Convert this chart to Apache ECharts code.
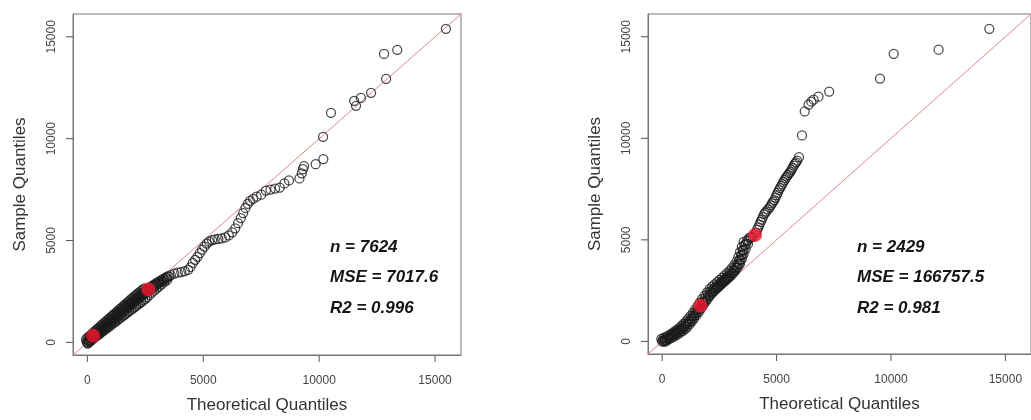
<!DOCTYPE html>
<html>
<head>
<meta charset="utf-8">
<script src="https://cdn.jsdelivr.net/npm/echarts@6/dist/echarts.min.js"></script>
<style>
  html, body { margin: 0; padding: 0; background: #fff; }
  #chart { width: 1031px; height: 420px; }
</style>
</head>
<body>
<div id="chart"></div>
<script>
// Q-Q comparison of two samples: [theoretical quantile, sample quantile]
const tickValues = [0, 5000, 10000, 15000];
const axisRange = [-620, 16120];
const identityEnds = [-2000, 18000];

const leftPoints = [
  [-30,40],[40,110],[100,190],[170,250],[230,340],[300,410],[370,470],[440,540],[510,600],[580,680],
  [650,740],[720,820],[790,880],[860,960],[930,1020],[1000,1100],[1070,1160],[1140,1240],[1210,1300],
  [1280,1380],[1350,1440],[1420,1520],[1490,1580],[1560,1660],[1630,1720],[1700,1790],[1770,1850],
  [1840,1920],[1910,1980],[1980,2050],[2050,2110],[2120,2180],[2190,2240],[2260,2310],[2330,2370],
  [2400,2440],[2470,2500],[2540,2570],[2620,2640],[2700,2700],[2780,2760],[2860,2820],[2940,2880],
  [3020,2940],[3100,3000],[3190,3060],[3280,3120],[3370,3180],[3460,3240],
  [20,-60],[90,20],[160,90],[230,160],[300,230],[380,290],[450,360],[530,420],[600,490],[680,550],
  [750,620],[830,680],[900,750],[980,810],[1050,880],[1130,940],[1200,1010],[1280,1070],[1350,1140],
  [1430,1200],[1500,1270],[1580,1330],[1650,1400],[1730,1460],[1800,1530],[1880,1590],[1950,1660],
  [2030,1720],[2100,1790],[2180,1850],[2260,1920],[2340,1990],[2420,2060],[2500,2140],[2580,2220],
  [2680,2330],[2780,2440],[2880,2540],[2980,2640],[3090,2740],[3200,2850],[3320,2960],[3440,3060],
  [0,-20],[70,40],[135,100],[200,170],[265,230],[335,300],[405,370],[475,440],[545,500],[615,580],
  [685,640],[755,720],[825,780],[895,860],[965,920],[1035,1000],[1105,1060],[1175,1140],[1245,1200],
  [1315,1280],[1385,1340],[1455,1420],[1525,1480],[1595,1560],[1665,1620],[1735,1700],[1805,1760],
  [1875,1830],[1945,1890],[2015,1960],[2085,2020],[2155,2090],[2225,2150],[2295,2220],[2365,2280],
  [2435,2350],[2505,2410],[2580,2480],[2660,2560],[2740,2620],[2820,2690],[2900,2760],[2980,2820],
  [3060,2880],[3150,2950],[3240,3010],[3330,3080],[3420,3150],[3520,3230],
  [-60,150],[10,230],[80,300],[150,370],[220,440],[290,510],[360,590],[430,660],[500,730],[570,800],
  [640,870],[710,940],[780,1010],[850,1080],[920,1150],[990,1220],[1060,1290],[1130,1360],[1200,1430],
  [1270,1500],[1340,1570],[1410,1640],[1480,1710],[1550,1780],[1620,1850],[1690,1920],[1760,1990],
  [1830,2060],[1900,2130],[1970,2200],[2040,2270],[2110,2330],[2180,2400],[2250,2460],[2320,2530],
  [2390,2590],[2460,2650],
  [3600,3300],[3750,3380],[3900,3420],[4050,3450],[4200,3500],[4350,3560],[4450,3700],[4550,3900],
  [4650,4050],[4750,4200],[4850,4380],[4950,4550],[5050,4700],[5150,4850],[5250,4950],[5380,5020],
  [5500,5060],[5650,5080],[5800,5100],[5950,5150],[6100,5250],[6250,5400],[6380,5600],[6500,5850],
  [6620,6100],[6720,6350],[6820,6600],[6920,6800],[7020,6950],[7150,7050],[7300,7150],[7500,7250],
  [7700,7450],[7900,7500],[8100,7550],[8300,7600],[8500,7800],[8700,7950],[9150,8050],[9250,8300],
  [9300,8500],[9350,8650],[9850,8750],[10180,9000],[10170,10090],[10510,11270],[11510,11860],
  [11590,11610],[11800,12000],[12240,12250],[12890,12940],[12800,14160],[13370,14360],[15470,15390]
];
const leftHighlight = [[250, 330], [2630, 2600]];

const rightPoints = [
  [0,0],[60,30],[150,80],[250,150],[350,240],[450,330],[550,420],[650,500],[750,580],[850,660],
  [950,760],[1050,870],[1150,990],[1250,1120],[1350,1260],[1450,1410],[1550,1570],[1780,1950],
  [1900,2150],[2000,2300],[2100,2450],[2200,2550],[2300,2650],[2400,2750],[2500,2850],[2600,2950],
  [2700,3050],[2800,3150],[2900,3250],[3000,3400],[3100,3500],[3200,3650],[3300,3800],[3380,4000],
  [3450,4250],[3520,4500],[3600,4750],[3700,4950],[3800,5100],[3950,5150],
  [100,-20],[200,40],[300,110],[400,170],[500,240],[600,300],[700,370],[800,440],[900,520],[1000,610],
  [1100,720],[1200,850],[1300,990],[1400,1140],[1500,1290],[1600,1450],[1700,1620],[1800,1790],
  [1900,1960],[2000,2120],[2100,2270],[2200,2400],[2300,2510],[2400,2620],[2500,2720],[2600,2830],
  [2700,2930],[2800,3030],[2900,3130],[3000,3240],[3100,3360],[3200,3490],[3300,3640],[3400,3820],
  [3480,4050],[3560,4300],[3650,4550],[3750,4800],
  [30,50],[120,90],[210,140],[310,200],[410,260],[510,320],[610,390],[710,460],[810,540],[910,630],
  [1010,730],[1110,840],[1210,970],[1310,1110],[1410,1260],[1510,1420],[1610,1590],[1710,1760],
  [1820,1900],[1930,2060],[2050,2230],[2150,2370],[2250,2480],[2350,2590],[2450,2690],[2550,2800],
  [2650,2900],[2750,3000],[2850,3100],[2950,3210],[3050,3330],[3150,3470],[3250,3620],[3350,3800],
  [3420,4020],[3500,4280],[3570,4520],[3660,4800],[3760,5000],[3870,5120],
  [-40,120],[50,160],[140,210],[240,270],[340,340],[440,410],[540,490],[640,570],[740,660],[840,760],
  [940,870],[1040,990],[1140,1120],[1240,1260],[1340,1410],[1440,1570],[1540,1740],[1640,1910],
  [1740,2080],[1850,2250],[1960,2420],[2070,2570],[2180,2700],[2290,2810],[2400,2920],[2510,3030],
  [2620,3140],[2730,3250],[2840,3360],[2950,3480],[3050,3610],[3150,3760],[3250,3940],[3330,4150],
  [3400,4400],[3480,4650],[3560,4900],
  [4100,5350],[4200,5620],[4300,5880],[4400,6120],[4500,6330],[4620,6500],[4750,6700],[4850,6880],
  [4950,7080],[5050,7320],[5150,7550],[5250,7750],[5350,7950],[5450,8120],[5550,8280],[5650,8450],
  [5750,8650],[5850,8820],
  [4150,5500],[4250,5750],[4350,6000],[4450,6250],[4550,6400],[4700,6600],[4800,6800],[4900,6950],
  [5000,7200],[5100,7450],[5200,7650],[5300,7850],[5400,8050],[5500,8200],[5600,8350],[5700,8550],
  [5800,8750],[5900,8900],[5980,9070],[6110,10140],[6230,11320],[6400,11660],[6520,11800],
  [6620,11900],[6830,12050],[7300,12300],[9520,12940],[10120,14160],[12080,14360],[14300,15390]
];
const rightHighlight = [[1670, 1760], [4060, 5245]];

const leftStats = ['n = 7624', 'MSE = 7017.6', 'R2 = 0.996'];
const rightStats = ['n = 2429', 'MSE = 166757.5', 'R2 = 0.981'];

const FONT = '"Liberation Sans", Arial, Helvetica, sans-serif';
const identityLine = identityEnds.map(v => [v, v]);
const plain = v => String(v);
const FRAME = '#777';
const TICK_LEN = 7;

function xAxisFor(gridIndex) {
  return {
    gridIndex, type: 'value', min: axisRange[0], max: axisRange[1],
    name: 'Theoretical Quantiles', nameLocation: 'middle', nameGap: 42,
    nameTextStyle: { fontSize: 17, color: '#333', fontFamily: FONT },
    axisLine: { show: true, onZero: false, lineStyle: { color: FRAME, width: 1 } },
    axisTick: { show: false },
    axisLabel: { customValues: tickValues, formatter: plain, margin: 20, fontSize: 12, color: '#444', fontFamily: FONT },
    splitLine: { show: false }
  };
}
function yAxisFor(gridIndex) {
  return {
    gridIndex, type: 'value', min: axisRange[0], max: axisRange[1],
    name: 'Sample Quantiles', nameLocation: 'middle', nameGap: 44,
    nameTextStyle: { fontSize: 17, color: '#333', fontFamily: FONT },
    axisLine: { show: true, onZero: false, lineStyle: { color: FRAME, width: 1 } },
    axisTick: { show: false },
    axisLabel: { customValues: tickValues, formatter: plain, rotate: 90, margin: 15, fontSize: 12, color: '#444', fontFamily: FONT },
    splitLine: { show: false }
  };
}
function panelSeries(idx, points, highlight) {
  return [
    {
      type: 'line', xAxisIndex: idx, yAxisIndex: idx, data: identityLine,
      symbol: 'none', silent: true, clip: true, z: 1,
      lineStyle: { color: '#d88a8f', width: 1 }
    },
    {
      type: 'scatter', xAxisIndex: idx, yAxisIndex: idx, data: points,
      symbol: 'circle', symbolSize: 9, clip: true, z: 2,
      itemStyle: { color: 'rgba(0,0,0,0)', borderColor: '#1a1a1a', borderWidth: 1.25 }
    },
    {
      type: 'scatter', xAxisIndex: idx, yAxisIndex: idx, data: highlight,
      symbol: 'circle', symbolSize: 14, z: 3,
      itemStyle: { color: '#f5162e' }
    }
  ];
}
function statsText(lines, x) {
  return lines.map((t, i) => ({
    type: 'text', x: x, y: 247 + i * 30.5,
    style: {
      text: t, fill: '#151515', font: 'italic bold 17px ' + FONT,
      textVerticalAlign: 'middle'
    }
  }));
}

const chart = echarts.init(document.getElementById('chart'), null, { renderer: 'canvas' });
chart.setOption({
  animation: false,
  backgroundColor: '#ffffff',
  textStyle: { fontFamily: FONT },
  grid: [
    { left: 73, top: 14, width: 388, height: 341, show: true, borderColor: FRAME, borderWidth: 1, backgroundColor: 'transparent' },
    { left: 648, top: 14, width: 392, height: 340, show: true, borderColor: FRAME, borderWidth: 1, backgroundColor: 'transparent' }
  ],
  xAxis: [xAxisFor(0), xAxisFor(1)],
  yAxis: [yAxisFor(0), yAxisFor(1)],
  series: [].concat(panelSeries(0, leftPoints, leftHighlight), panelSeries(1, rightPoints, rightHighlight))
});

// Outward tick marks at the labelled values, placed through each axis' own scale
function tickMarks(i) {
  const left = chart.convertToPixel({ xAxisIndex: i }, axisRange[0]);
  const bottom = chart.convertToPixel({ yAxisIndex: i }, axisRange[0]);
  const marks = [];
  tickValues.forEach(v => {
    const px = chart.convertToPixel({ xAxisIndex: i }, v);
    const py = chart.convertToPixel({ yAxisIndex: i }, v);
    marks.push({ type: 'line', silent: true, shape: { x1: px, y1: bottom, x2: px, y2: bottom + TICK_LEN }, style: { stroke: '#555', lineWidth: 1 } });
    marks.push({ type: 'line', silent: true, shape: { x1: left - TICK_LEN, y1: py, x2: left, y2: py }, style: { stroke: '#555', lineWidth: 1 } });
  });
  return marks;
}

chart.setOption({
  graphic: [].concat(statsText(leftStats, 330), statsText(rightStats, 857), tickMarks(0), tickMarks(1))
});
</script>
</body>
</html>
